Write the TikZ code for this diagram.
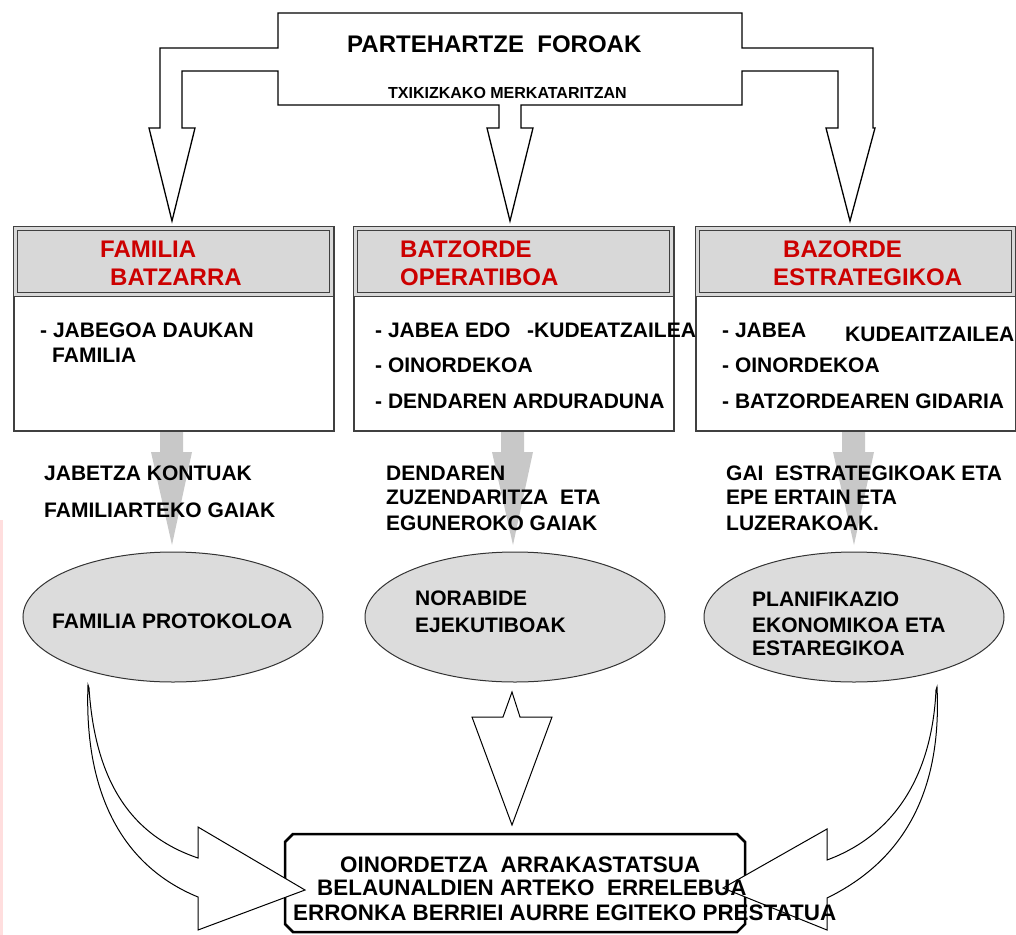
\documentclass[tikz,border=0pt]{standalone}
\usepackage{fontspec}
\setmainfont{Liberation Sans}
\usetikzlibrary{shapes.geometric}

\definecolor{hdred}{RGB}{204,0,0}
\definecolor{hdgray}{RGB}{216,216,216}
\definecolor{flowgray}{RGB}{200,200,200}
\definecolor{ovalgray}{RGB}{220,220,220}
\definecolor{edgepink}{RGB}{255,222,222}

\tikzset{
  hdtxt/.style={anchor=base west,inner sep=0pt,text=hdred,font=\bfseries\fontsize{24bp}{28bp}\selectfont},
  txt/.style={anchor=base west,inner sep=0pt,font=\bfseries\fontsize{21bp}{25bp}\selectfont},
  goaltxt/.style={anchor=base west,inner sep=0pt,font=\bfseries\fontsize{22.4bp}{26bp}\selectfont},
  groupbox/.style={draw=black!75,line width=1.5bp,fill=white,anchor=north west,minimum width=320bp,minimum height=204bp,inner sep=0pt},
  headbox/.style={draw=black!75,line width=1bp,double=hdgray,double distance=2.5bp,fill=hdgray,anchor=north west,minimum width=316bp,minimum height=66bp,inner sep=0pt},
  oval/.style={ellipse,draw=black!80,line width=1bp,fill=ovalgray,minimum width=300bp,minimum height=130bp,inner sep=0pt},
  blockarrow/.style={draw=black,line width=1bp,fill=white,line join=miter}
}

\begin{document}
\begin{tikzpicture}[x=1bp,y=-1bp]
\useasboundingbox (0,0) rectangle (1016,935);
\fill[edgepink] (0,520) rectangle (3,935);

% fork from the forum down to the three groups
\draw[blockarrow,line width=1.3bp] (278,13) -- (742,13) -- (742,48) -- (873,48) -- (873,128) -- (875,128) -- (850,221) -- (826,128) -- (838,128) -- (838,71) -- (742,71) -- (742,105)
  -- (521,105) -- (521,128) -- (533,128) -- (510,221) -- (487,128) -- (499,128) -- (499,105)
  -- (278,105) -- (278,71) -- (182,71) -- (182,128) -- (195,128) -- (172,221) -- (149,128) -- (160,128) -- (160,48) -- (278,48) -- cycle;
\node[anchor=base west,inner sep=0pt,font=\bfseries\fontsize{24bp}{28bp}\selectfont] (forum) at (347,52) {PARTEHARTZE~~FOROAK};
\node[anchor=base west,inner sep=0pt,font=\bfseries\fontsize{16bp}{19bp}\selectfont] (retail) at (388,98) {TXIKIZKAKO MERKATARITZAN};

% gray flows
\foreach \cx in {172,513,854}
  \fill[flowgray] (\cx-12,430) -- (\cx+11,430) -- (\cx+11,452) -- (\cx+20,452) -- (\cx,545) -- (\cx-21,452) -- (\cx-12,452) -- cycle;

% the three groups
\node[groupbox] (famBox) at (13,226) {};
\node[groupbox] (opBox) at (353,226) {};
\node[groupbox] (strBox) at (695,226) {};
\node[headbox] (famHead) at (15,228) {};
\node[headbox] (opHead) at (355,228) {};
\node[headbox] (strHead) at (697,228) {};

\node[hdtxt] (famT1) at (100,257) {FAMILIA};
\node[hdtxt] (famT2) at (110,285) {BATZARRA};
\node[hdtxt] (opT1) at (400,257) {BATZORDE};
\node[hdtxt] (opT2) at (400,285) {OPERATIBOA};
\node[hdtxt] (strT1) at (783,257) {BAZORDE};
\node[hdtxt] (strT2) at (773,285) {ESTRATEGIKOA};

\node[txt] (famM1) at (40,337) {- JABEGOA DAUKAN};
\node[txt] (famM2) at (52,362) {FAMILIA};
\node[txt] (opM1) at (375,337) {- JABEA EDO};
\node[txt] (opM2) at (527,337) {-KUDEATZAILEA};
\node[txt] (opM3) at (375,372) {- OINORDEKOA};
\node[txt] (opM4) at (375,408) {- DENDAREN ARDURADUNA};
\node[txt] (strM1) at (722,337) {- JABEA};
\node[txt] (strM2) at (845,341) {KUDEAITZAILEA};
\node[txt] (strM3) at (722,372) {- OINORDEKOA};
\node[txt] (strM4) at (722,408) {- BATZORDEAREN GIDARIA};

% topics
\node[txt] (famS1) at (44,480) {JABETZA KONTUAK};
\node[txt] (famS2) at (44,517) {FAMILIARTEKO GAIAK};
\node[txt] (opS1) at (386,480) {DENDAREN};
\node[txt] (opS2) at (386,504) {ZUZENDARITZA~~ETA};
\node[txt] (opS3) at (386,530) {EGUNEROKO GAIAK};
\node[txt] (strS1) at (726,480) {GAI~~ESTRATEGIKOAK ETA};
\node[txt] (strS2) at (726,504) {EPE ERTAIN ETA};
\node[txt] (strS3) at (726,530) {LUZERAKOAK.};

% results
\node[oval] (famOval) at (173,617) {};
\node[oval] (opOval) at (515,617) {};
\node[oval] (strOval) at (854,617) {};
\node[txt] (famO1) at (52,628) {FAMILIA PROTOKOLOA};
\node[txt] (opO1) at (415,605) {NORABIDE};
\node[txt] (opO2) at (415,632) {EJEKUTIBOAK};
\node[txt] (strO1) at (752,606) {PLANIFIKAZIO};
\node[txt] (strO2) at (752,632) {EKONOMIKOA ETA};
\node[txt] (strO3) at (752,655) {ESTAREGIKOA};

% goal
\draw[line width=2.5bp,fill=white,line join=miter] (285,842) -- (293,834) -- (737,834) -- (745,842) -- (745,924) -- (737,932) -- (293,932) -- (285,924) -- cycle;

\draw[blockarrow] (88,685) .. controls (84,790) and (120,865) .. (198,897) -- (198,930) -- (305,890) -- (198,827) -- (198,858) .. controls (130,835) and (95,780) .. (89,688) -- cycle;
\draw[blockarrow] (937,687) .. controls (942,790) and (905,860) .. (827,898) -- (827,930) -- (723,888) -- (827,829) -- (827,860) .. controls (895,835) and (932,775) .. (936,690) -- cycle;
\draw[blockarrow] (512,692) -- (520,717) -- (552,717) -- (512,825) -- (472,717) -- (503,717) -- cycle;

\node[goaltxt] (goal1) at (340,872) {OINORDETZA~~ARRAKASTATSUA};
\node[goaltxt] (goal2) at (317,895) {BELAUNALDIEN ARTEKO~~ERRELEBUA};
\node[goaltxt] (goal3) at (293,920) {ERRONKA BERRIEI AURRE EGITEKO PRESTATUA};
\end{tikzpicture}
\end{document}
